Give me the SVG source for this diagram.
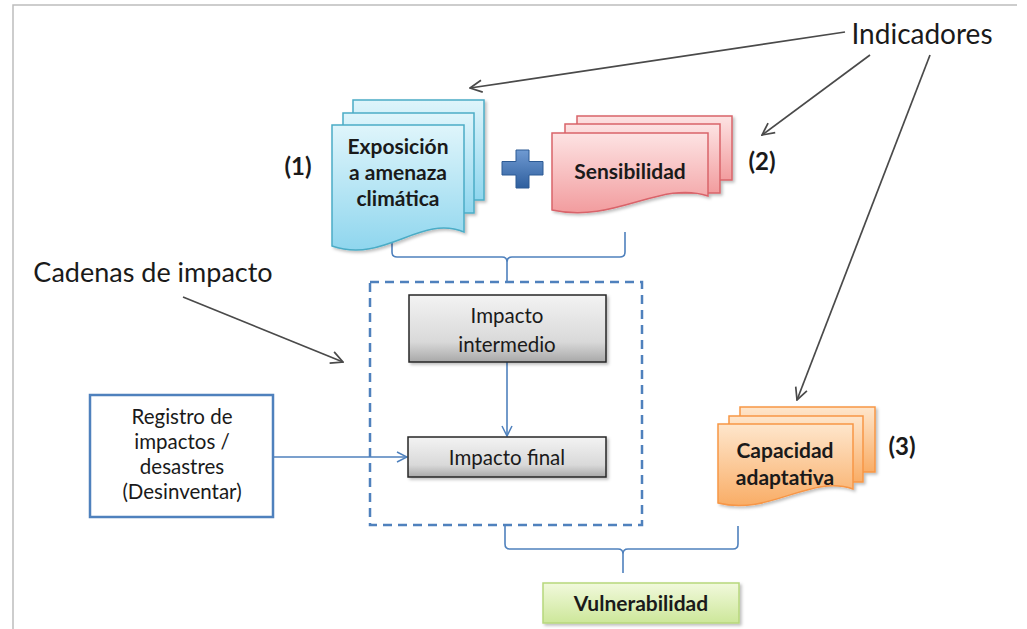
<svg xmlns="http://www.w3.org/2000/svg" width="1027" height="629" viewBox="0 0 1027 629">
<defs>
<linearGradient id="gBlue" x1="0" y1="0" x2="0" y2="1"><stop offset="0" stop-color="#dff5fb"/><stop offset="1" stop-color="#8fd6ee"/></linearGradient>
<linearGradient id="gPink" x1="0" y1="0" x2="0" y2="1"><stop offset="0" stop-color="#fde3e3"/><stop offset="1" stop-color="#f29c9e"/></linearGradient>
<linearGradient id="gOrange" x1="0" y1="0" x2="0" y2="1"><stop offset="0" stop-color="#fee6cc"/><stop offset="1" stop-color="#f9ad66"/></linearGradient>
<linearGradient id="gGray" x1="0" y1="0" x2="0" y2="1"><stop offset="0" stop-color="#f3f3f3"/><stop offset="0.7" stop-color="#d9d9d9"/><stop offset="1" stop-color="#a8a8a8"/></linearGradient>
<linearGradient id="gGreen" x1="0" y1="0" x2="0" y2="1"><stop offset="0" stop-color="#f1f9dc"/><stop offset="1" stop-color="#cde79a"/></linearGradient>
<linearGradient id="gPlus" x1="0" y1="0" x2="0" y2="1"><stop offset="0" stop-color="#6f9ad2"/><stop offset="1" stop-color="#2f5f9e"/></linearGradient>
<filter id="sh" x="-10%" y="-10%" width="130%" height="130%"><feDropShadow dx="2" dy="2" stdDeviation="1.5" flood-color="#000" flood-opacity="0.25"/></filter>
<marker id="aBlue" viewBox="0 0 12 12" refX="11" refY="6" markerWidth="12" markerHeight="12" markerUnits="userSpaceOnUse" orient="auto"><path d="M1,1 L11,6 L1,11" fill="none" stroke="#4f81bd" stroke-width="1.5"/></marker>
<marker id="aGray" viewBox="0 0 14 14" refX="13" refY="7" markerWidth="14" markerHeight="14" markerUnits="userSpaceOnUse" orient="auto"><path d="M1,1 L13,7 L1,13" fill="none" stroke="#4a4a4a" stroke-width="1.7"/></marker>
<style>
.t{font-family:Lato,"Open Sans","Liberation Sans",sans-serif;fill:#1a1a1a;text-anchor:middle}
.b{font-weight:bold}
.r{font-size:20.5px}
.bs{font-size:21px}
.conn{fill:none;stroke:#4f81bd;stroke-width:1.6}
.gray{fill:none;stroke:#4a4a4a;stroke-width:1.7}
.docB{fill:url(#gBlue);stroke:#4bacc6;stroke-width:1.5}
.docP{fill:url(#gPink);stroke:#d9646a;stroke-width:1.5}
.docO{fill:url(#gOrange);stroke:#f79646;stroke-width:1.5}
.imp{fill:url(#gGray);stroke:#262626;stroke-width:1.5}
</style>
</defs>
<rect width="1027" height="629" fill="#fff"/>
<path d="M13,629 V5 H1017" fill="none" stroke="#bdbdbd" stroke-width="1.5"/>

<g id="connectors">
<path class="conn" d="M392,232 V252 Q392,257 397,257 H502 Q507,257 507,262 V282 M507,262 Q507,257 512,257 H620 Q625,257 625,252 V232"/>
<path class="conn" d="M507,362 V436" marker-end="url(#aBlue)"/>
<path class="conn" d="M273,457 H407" marker-end="url(#aBlue)"/>
<path class="conn" d="M505,525 V544 Q505,549 510,549 H618 Q623,549 623,554 V573 M623,554 Q623,549 628,549 H733 Q738,549 738,544 V526"/>
<path class="gray" d="M845,32 L470,88" marker-end="url(#aGray)"/>
<path class="gray" d="M870,55 L762,135" marker-end="url(#aGray)"/>
<path class="gray" d="M930,55 L797,400" marker-end="url(#aGray)"/>
<path class="gray" d="M183,297 L343,362" marker-end="url(#aGray)"/>
</g>

<g id="exposicion">
<g filter="url(#sh)">
<rect class="docB" x="353" y="100" width="131" height="100"/>
<rect class="docB" x="343" y="113" width="131" height="100"/>
<path class="docB" d="M332,125 H464 V232 C420,214 385,264 332,246 Z"/>
</g>
<text class="t b bs" x="398" y="154">Exposición</text>
<text class="t b bs" x="398" y="180">a amenaza</text>
<text class="t b bs" x="398" y="206">climática</text>
</g>

<g id="plus">
<path d="M516,150 H529 V161.5 H543 V175 H529 V188 H516 V175 H502 V161.5 H516 Z" fill="url(#gPlus)" stroke="#2c5a94" stroke-width="1"/>
</g>

<g id="sensibilidad">
<g filter="url(#sh)">
<rect class="docP" x="577" y="116" width="155" height="64"/>
<rect class="docP" x="565" y="124" width="155" height="69"/>
<path class="docP" d="M552,133 H708 V196 C660,180 615,224 552,210 Z"/>
</g>
<text class="t b bs" x="630" y="179">Sensibilidad</text>
</g>

<g id="labels">
<text class="t b" x="298" y="175" font-size="24">(1)</text>
<text class="t b" x="762" y="170" font-size="24">(2)</text>
<text class="t b" x="902" y="455" font-size="24">(3)</text>
<text class="t" x="922" y="44" font-size="28">Indicadores</text>
<text class="t" x="153" y="282" font-size="27">Cadenas de impacto</text>
</g>

<g id="cadenas">
<rect x="370" y="282" width="272" height="243" fill="none" stroke="#4f81bd" stroke-width="2.5" stroke-dasharray="9,6"/>
</g>

<g id="impacto-intermedio">
<rect class="imp" x="409" y="295" width="197" height="67" filter="url(#sh)"/>
<text class="t r" x="507" y="323">Impacto</text>
<text class="t r" x="507" y="352">intermedio</text>
</g>

<g id="impacto-final">
<rect class="imp" x="408" y="437" width="198" height="40" filter="url(#sh)"/>
<text class="t r" x="507" y="465">Impacto final</text>
</g>

<g id="registro">
<rect x="90" y="395" width="183" height="122" fill="#fff" stroke="#4f81bd" stroke-width="2.5"/>
<text class="t r" x="182" y="424">Registro de</text>
<text class="t r" x="182" y="449">impactos /</text>
<text class="t r" x="182" y="474">desastres</text>
<text class="t r" x="182" y="499">(Desinventar)</text>
</g>

<g id="capacidad">
<g filter="url(#sh)">
<rect class="docO" x="740" y="407" width="135" height="65"/>
<rect class="docO" x="729" y="416" width="134" height="66"/>
<path class="docO" d="M718,424 H853 V489 C810,474 770,516 718,503 Z"/>
</g>
<text class="t b bs" x="785" y="458">Capacidad</text>
<text class="t b bs" x="785" y="485">adaptativa</text>
</g>

<g id="vulnerabilidad">
<rect x="543" y="583" width="196" height="40" fill="url(#gGreen)" stroke="#b7d77c" stroke-width="1.5" filter="url(#sh)"/>
<text class="t b bs" x="641" y="611">Vulnerabilidad</text>
</g>
</svg>
